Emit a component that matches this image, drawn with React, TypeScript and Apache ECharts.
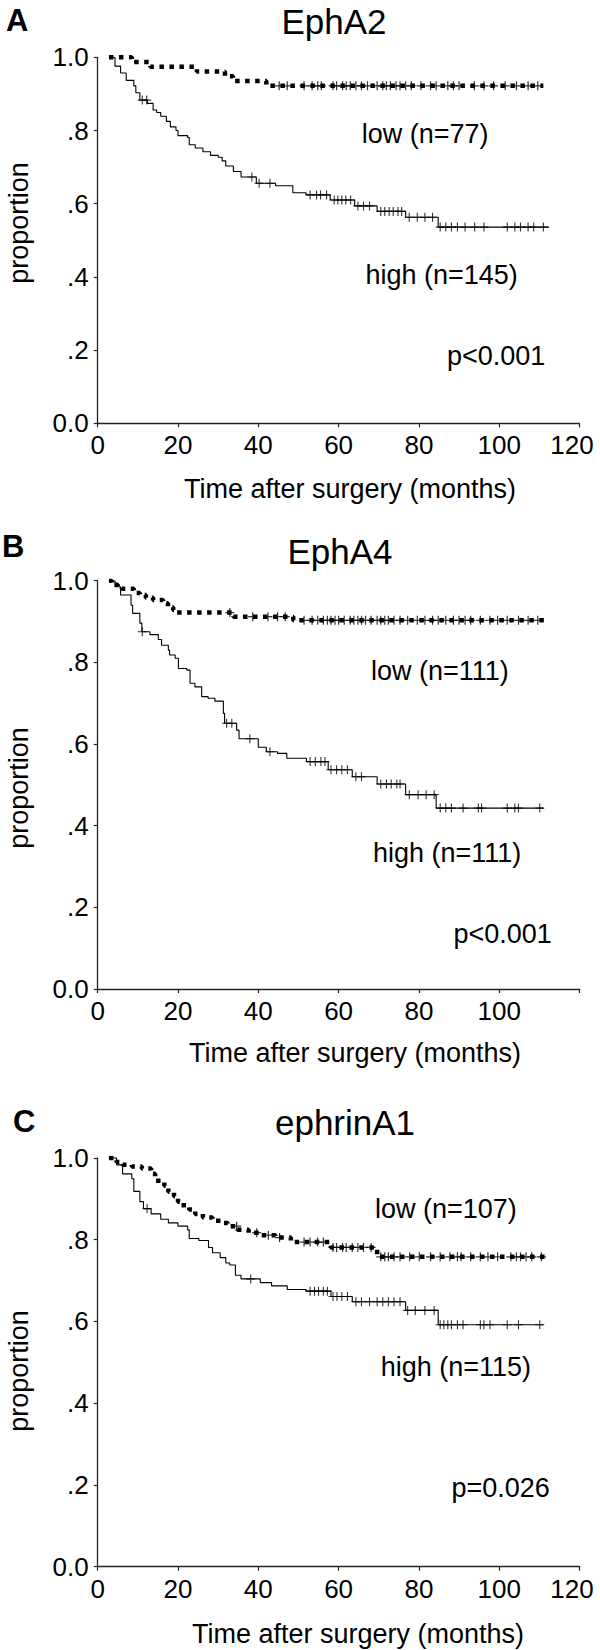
import React, { useEffect, useRef } from "react";
import * as echarts from "echarts";

const FONT = '"Liberation Sans", Arial, Helvetica, sans-serif';

const xMax = 120;
const xStep = 20;
const yTickLabels = ["0.0", ".2", ".4", ".6", ".8", "1.0"];

const panelLetters = ["A", "B", "C"];
const panelTitles = ["EphA2", "EphA4", "ephrinA1"];
const lowLabels = ["low (n=77)", "low (n=111)", "low (n=107)"];
const highLabels = ["high (n=145)", "high (n=111)", "high (n=115)"];
const pLabels = ["p<0.001", "p<0.001", "p=0.026"];

// ---- Panel A: EphA2 ----
const aHighTimes = [2.8, 4.3, 5.7, 7.1, 9.0, 9.5, 10.5, 12.4, 13.8, 14.7, 15.7, 17.1, 18.1, 19.5, 20.0, 22.4, 22.8, 24.3, 26.2, 28.1, 30.0, 31.0, 31.9, 33.8, 35.7, 39.5, 44.3, 48.6, 51.9, 57.9, 64.0, 69.6, 76.7, 84.8];
const aHighSurv = [1.0, 0.976, 0.957, 0.937, 0.922, 0.903, 0.883, 0.874, 0.856, 0.849, 0.839, 0.825, 0.81, 0.8, 0.786, 0.781, 0.761, 0.752, 0.742, 0.732, 0.727, 0.717, 0.703, 0.688, 0.673, 0.656, 0.649, 0.63, 0.624, 0.61, 0.594, 0.579, 0.563, 0.536];
const aHighCensor = [11.1, 12.2, 38.4, 40.2, 42.9, 52.9, 54.5, 55.5, 57.0, 58.9, 59.8, 60.8, 61.8, 63.0, 64.8, 66.2, 67.7, 70.5, 71.5, 72.6, 73.6, 74.8, 75.7, 77.6, 79.6, 81.5, 83.4, 85.3, 86.7, 88.1, 89.6, 91.5, 93.9, 96.2, 102.0, 103.9, 105.3, 107.2, 108.6, 111.0];
const aHighEnd = 112.4;

const aLowTimes = [2.8, 8.5, 13.1, 24.7, 31.7, 33.7, 42.0];
const aLowSurv = [1.0, 0.987, 0.974, 0.961, 0.948, 0.935, 0.922];
const aLowCensor = [45.2, 47.2, 51.4, 53.4, 54.8, 55.7, 58.6, 59.5, 61.0, 61.9, 62.9, 64.3, 65.7, 67.2, 69.6, 71.0, 71.9, 72.9, 74.3, 75.3, 76.7, 78.1, 80.5, 82.9, 84.3, 87.2, 88.6, 90.0, 93.8, 96.2, 98.6, 101.5, 104.3, 107.2, 109.6];
const aLowEnd = 111.0;

// ---- Panel B: EphA4 ----
const bHighTimes = [2.8, 4.3, 5.7, 8.3, 8.7, 10.5, 11.0, 13.0, 15.1, 15.9, 17.6, 17.9, 19.3, 20.1, 22.2, 23.0, 24.2, 25.9, 27.5, 29.2, 31.3, 31.6, 34.6, 35.2, 40.0, 42.0, 44.8, 47.1, 52.0, 57.4, 63.4, 69.6, 76.7, 84.3];
const bHighSurv = [1.0, 0.985, 0.965, 0.94, 0.92, 0.896, 0.875, 0.868, 0.856, 0.842, 0.83, 0.818, 0.81, 0.785, 0.781, 0.749, 0.74, 0.716, 0.712, 0.705, 0.675, 0.651, 0.634, 0.613, 0.592, 0.581, 0.577, 0.565, 0.557, 0.537, 0.52, 0.502, 0.476, 0.443];
const bHighCensor = [11.1, 32.1, 33.4, 37.9, 42.9, 52.9, 54.2, 55.6, 56.6, 58.1, 59.5, 60.8, 62.2, 64.3, 65.7, 70.5, 71.9, 73.1, 74.5, 75.3, 77.6, 79.8, 81.8, 83.8, 85.3, 86.7, 88.1, 91.0, 94.8, 95.6, 102.0, 103.9, 104.8, 110.1];
const bHighEnd = 111.0;

const bLowTimes = [2.8, 3.5, 4.2, 5.0, 6.0, 9.0, 10.5, 12.0, 13.8, 16.3, 17.5, 18.8, 19.7, 33.8, 48.7];
const bLowSurv = [1.0, 0.995, 0.99, 0.985, 0.98, 0.97, 0.965, 0.958, 0.953, 0.945, 0.935, 0.928, 0.922, 0.912, 0.903];
const bLowCensor = [32.9, 38.6, 42.4, 44.8, 46.7, 51.4, 53.4, 54.8, 56.2, 57.2, 58.1, 59.1, 60.0, 61.4, 62.9, 63.8, 64.8, 65.7, 66.7, 68.1, 69.6, 70.5, 71.5, 72.4, 73.8, 75.3, 77.2, 79.6, 81.5, 83.4, 84.8, 86.7, 88.6, 90.0, 91.5, 92.9, 95.3, 97.7, 99.6, 102.0, 104.8, 107.2, 109.6];
const bLowEnd = 112.0;

// ---- Panel C: ephrinA1 ----
const cHighTimes = [2.8, 4.7, 6.2, 8.5, 9.0, 10.5, 11.4, 13.3, 15.7, 17.6, 20.0, 22.4, 22.8, 25.2, 27.6, 28.6, 30.5, 31.9, 32.9, 34.3, 35.7, 40.5, 43.3, 47.2, 51.9, 58.1, 63.4, 76.7, 84.8];
const cHighSurv = [1.0, 0.983, 0.961, 0.949, 0.918, 0.893, 0.876, 0.863, 0.85, 0.841, 0.833, 0.824, 0.803, 0.798, 0.781, 0.768, 0.756, 0.743, 0.738, 0.713, 0.704, 0.695, 0.687, 0.678, 0.674, 0.661, 0.648, 0.627, 0.592];
const cHighCensor = [12.3, 38.1, 52.9, 54.0, 55.0, 56.2, 57.2, 58.6, 59.6, 60.8, 62.2, 64.3, 65.7, 67.7, 69.6, 71.0, 72.4, 73.8, 75.3, 77.2, 79.1, 81.5, 83.8, 85.3, 86.2, 87.2, 88.1, 89.6, 91.0, 95.3, 96.2, 97.7, 102.0, 104.8, 110.1];
const cHighEnd = 111.0;

const cLowTimes = [2.8, 4.7, 6.2, 8.5, 11.0, 13.3, 14.3, 16.6, 17.6, 19.0, 20.0, 20.5, 22.8, 24.3, 26.2, 28.6, 31.0, 32.4, 34.8, 37.6, 40.5, 44.3, 48.1, 58.1, 69.6];
const cLowSurv = [1.0, 0.99, 0.983, 0.979, 0.974, 0.961, 0.944, 0.932, 0.917, 0.906, 0.893, 0.884, 0.874, 0.863, 0.854, 0.846, 0.841, 0.833, 0.824, 0.817, 0.811, 0.805, 0.794, 0.781, 0.758];
const cLowCensor = [34.6, 39.6, 42.5, 45.3, 51.4, 52.9, 54.8, 56.2, 58.6, 59.5, 61.0, 61.9, 63.4, 64.8, 66.2, 68.1, 70.5, 71.5, 72.4, 73.8, 75.3, 77.7, 80.1, 82.9, 85.3, 87.7, 89.6, 90.5, 92.9, 95.3, 97.2, 99.6, 102.9, 104.3, 105.3, 106.7, 108.1, 110.5];
const cLowEnd = 112.0;

type Curve = { times: number[]; surv: number[]; censor: number[]; end: number };

const curves: { high: Curve; low: Curve }[] = [
  {
    high: { times: aHighTimes, surv: aHighSurv, censor: aHighCensor, end: aHighEnd },
    low: { times: aLowTimes, surv: aLowSurv, censor: aLowCensor, end: aLowEnd },
  },
  {
    high: { times: bHighTimes, surv: bHighSurv, censor: bHighCensor, end: bHighEnd },
    low: { times: bLowTimes, surv: bLowSurv, censor: bLowCensor, end: bLowEnd },
  },
  {
    high: { times: cHighTimes, surv: cHighSurv, censor: cHighCensor, end: cHighEnd },
    low: { times: cLowTimes, surv: cLowSurv, censor: cLowCensor, end: cLowEnd },
  },
];

function stepPoints(c: Curve): number[][] {
  const pts = c.times.map((t, i) => [t, c.surv[i]]);
  pts.push([c.end, c.surv[c.surv.length - 1]]);
  return pts;
}

function levelAt(c: Curve, t: number): number {
  let s = c.surv[0];
  for (let i = 0; i < c.times.length; i++) {
    if (c.times[i] <= t) s = c.surv[i];
  }
  return s;
}

function censorPoints(c: Curve): number[][] {
  return c.censor.map((t) => [t, levelAt(c, t)]);
}

// Layout (pixels)
const grids = [
  { left: 97.7, top: 57.3, width: 481.8, height: 366 },
  { left: 97.7, top: 580.7, width: 481.8, height: 408.3 },
  { left: 97.7, top: 1157.9, width: 481.8, height: 408.8 },
];
const layout = [
  { letter: [6, 20], title: [334, 21], low: [361.7, 134], high: [365.5, 274.6], p: [447, 355.6], ylab: [19, 223], xlab: [350, 489], max: [572, 445.3] },
  { letter: [2, 546], title: [340, 551.5], low: [371, 671], high: [373, 853], p: [453.5, 934], ylab: [19, 788], xlab: [355, 1053], max: null },
  { letter: [13, 1121.4], title: [345, 1122], low: [375, 1208.7], high: [380.7, 1366.6], p: [451.5, 1487.6], ylab: [19, 1371], xlab: [358, 1634], max: [572, 1588.7] },
];

const PLUS = "path://M4,0V8M0,4H8";

export default function App() {
  const ref = useRef<HTMLDivElement>(null);

  useEffect(() => {
    if (!ref.current) return;
    const chart = echarts.init(ref.current, null, { renderer: "svg" });

    const axisLine = { show: true, lineStyle: { color: "#222", width: 1.3 } };
    const axisTick = { show: true, length: 4, inside: false, lineStyle: { color: "#222", width: 1.2 } };

    const xAxis = grids.map((_, i) => ({
      type: "value",
      gridIndex: i,
      min: 0,
      max: xMax,
      interval: xStep,
      axisLine,
      axisTick,
      splitLine: { show: false },
      axisLabel: {
        color: "#000",
        fontSize: 26,
        fontFamily: FONT,
        margin: 9,
        formatter: (v: number) => (v === xMax ? "" : String(v)),
      },
    }));

    const yAxis = grids.map((_, i) => ({
      type: "value",
      gridIndex: i,
      min: 0,
      max: 1,
      interval: 0.2,
      axisLine,
      axisTick,
      splitLine: { show: false },
      axisLabel: {
        color: "#000",
        fontSize: 26,
        fontFamily: FONT,
        margin: 9,
        formatter: (v: number) => yTickLabels[Math.round(v * 5)],
      },
    }));

    const series: any[] = [];
    curves.forEach((c, i) => {
      series.push({
        type: "line",
        xAxisIndex: i,
        yAxisIndex: i,
        step: "end",
        symbol: "none",
        silent: true,
        lineStyle: { color: "#000", width: 1.1 },
        data: stepPoints(c.high),
        z: 3,
      });
      series.push({
        type: "line",
        xAxisIndex: i,
        yAxisIndex: i,
        step: "end",
        symbol: "none",
        silent: true,
        lineStyle: { color: "#000", width: 4.5, type: [4.5, 5.5] },
        data: stepPoints(c.low),
        z: 3,
      });
      series.push({
        type: "scatter",
        xAxisIndex: i,
        yAxisIndex: i,
        symbol: PLUS,
        symbolSize: 9,
        silent: true,
        itemStyle: { color: "none", borderColor: "#000", borderWidth: 1.1 },
        data: censorPoints(c.high),
        z: 4,
      });
      series.push({
        type: "scatter",
        xAxisIndex: i,
        yAxisIndex: i,
        symbol: PLUS,
        symbolSize: 9,
        silent: true,
        itemStyle: { color: "none", borderColor: "#000", borderWidth: 1.2 },
        data: censorPoints(c.low),
        z: 4,
      });
    });

    const txt = (text: string, pos: number[], font: string, align: string, rotation = 0) => ({
      type: "text",
      x: pos[0],
      y: pos[1],
      rotation,
      silent: true,
      style: { text, font, fill: "#000", align, verticalAlign: "middle" },
    });

    const graphic: any[] = [];
    layout.forEach((L, i) => {
      graphic.push(txt(panelLetters[i], L.letter, `bold 31px ${FONT}`, "left"));
      graphic.push(txt(panelTitles[i], L.title, `35px ${FONT}`, "center"));
      graphic.push(txt(lowLabels[i], L.low, `27px ${FONT}`, "left"));
      graphic.push(txt(highLabels[i], L.high, `27px ${FONT}`, "left"));
      graphic.push(txt(pLabels[i], L.p, `27px ${FONT}`, "left"));
      graphic.push(txt("proportion", L.ylab, `27px ${FONT}`, "center", Math.PI / 2));
      graphic.push(txt("Time after surgery (months)", L.xlab, `27px ${FONT}`, "center"));
      if (L.max) graphic.push(txt(String(xMax), L.max, `26px ${FONT}`, "center"));
    });

    chart.setOption({
      animation: false,
      backgroundColor: "#fff",
      grid: grids.map((g) => ({ ...g, containLabel: false })),
      xAxis,
      yAxis,
      series,
      graphic,
    });

    return () => chart.dispose();
  }, []);

  return (
    <div
      ref={ref}
      style={{ position: "absolute", left: 0, top: 0, width: 600, height: 1650, background: "#fff" }}
    />
  );
}
